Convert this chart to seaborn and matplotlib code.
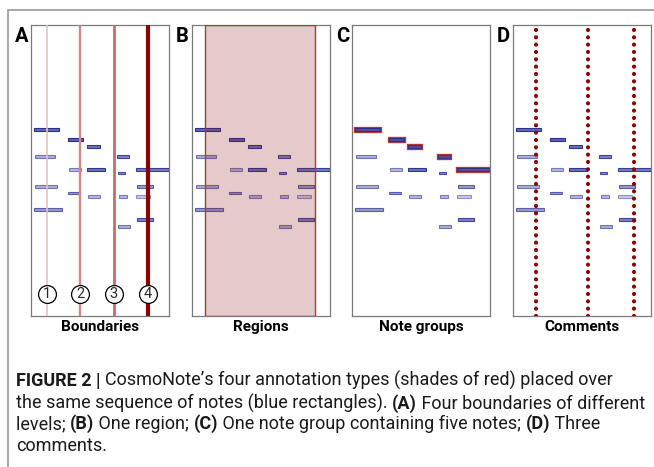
import matplotlib
matplotlib.use('Agg')
import matplotlib.pyplot as plt
import seaborn as sns
from matplotlib.lines import Line2D
from matplotlib.colors import to_rgba

# 음표 데이터 (시간 0~100, 음높이 MIDI)
onsets = [2.2, 26.6, 40.8, 3.1, 62.5, 27.3, 40.8, 62.8, 76.1, 3.1, 77.0, 27.0, 41.5, 63.6, 76.3, 2.2, 77.0, 63.0]
durations = [18.1, 10.9, 9.2, 14.5, 8.5, 8.7, 12.6, 5.3, 24.0, 15.9, 11.2, 8.7, 8.7, 6.2, 10.1, 20.0, 11.2, 9.0]
pitches = [72, 69, 67, 64, 64, 60, 60, 59, 60, 55, 55, 53, 52, 52, 52, 48, 45, 43]
velocities = [108, 114, 102, 57, 89, 51, 102, 83, 95, 57, 70, 70, 51, 51, 38, 70, 89, 57]

# 주석 데이터
boundary_times = [11.4, 35.5, 59.9, 84.6]
boundary_labels = ['1', '2', '3', '4']
region_start, region_end = 9.7, 88.9
group_notes = [0, 1, 2, 4, 8]
comment_times = [16.4, 54.6, 87.9]

panel_letters = ['A', 'B', 'C', 'D']
panel_titles = ['Boundaries', 'Regions', 'Note groups', 'Comments']

sns.set_theme(style='white')
plt.rcParams['font.family'] = ['Roboto', 'DejaVu Sans']

W, H = 654, 467
fig = plt.figure(figsize=(W / 100, H / 100), dpi=100)

# 바깥 테두리 (위, 왼쪽)
fig.add_artist(Line2D([8 / W, 1], [1 - 10 / H, 1 - 10 / H], color='#9a9a9a', lw=1.2))
fig.add_artist(Line2D([8 / W, 8 / W], [0, 1 - 10 / H], color='#9a9a9a', lw=1.2))

lefts = [31, 192, 352, 513]
top, bottom, width = 25, 316, 138

note_fill = (0.29, 0.31, 0.66)
note_edge = (0.17, 0.19, 0.55)


def draw_notes(ax):
    fc = [(*note_fill, v / 127) for v in velocities]
    ec = [(*note_edge, min(1, v / 127 + 0.15)) for v in velocities]
    ax.barh(y=pitches, width=durations, left=onsets, height=0.85,
            color=fc, edgecolor=ec, linewidth=0.8, zorder=3)


axes = []
for i, left in enumerate(lefts):
    ax = fig.add_axes([left / W, (H - bottom) / H, width / W, (bottom - top) / H])
    ax.set_xlim(0, 100)
    ax.set_ylim(16.1, 103.4)
    ax.set_xticks([])
    ax.set_yticks([])
    for s in ax.spines.values():
        s.set_color('#7a7a7a')
        s.set_linewidth(0.9)
    ax.set_xlabel(panel_titles[i], fontsize=11, fontweight='bold', labelpad=3, color='black')
    fig.text((left - 9.5) / W, 1 - 36 / H, panel_letters[i], fontsize=14.5,
             fontweight='bold', ha='center', va='center', color='black')
    axes.append(ax)

# A: 경계선
axA = axes[0]
draw_notes(axA)
b_colors = ['#e8c0c0', '#d08888', '#c96a6a', '#8b0000']
b_widths = [1.2, 1.7, 2.0, 3.0]
for t, c, w in zip(boundary_times, b_colors, b_widths):
    axA.axvline(t, color=c, lw=w, zorder=4)
circ_y = 22.8
axA.scatter(boundary_times, [circ_y] * 4, s=165, facecolor='white',
            edgecolor='black', linewidth=0.9, zorder=5)
for t, lab in zip(boundary_times, boundary_labels):
    axA.text(t, circ_y, lab, fontsize=10.5, ha='center', va='center', zorder=6)

# B: 영역
axB = axes[1]
draw_notes(axB)
axB.axvspan(region_start, region_end, facecolor=to_rgba('#8c1010', 0.22),
            edgecolor='#a83a3a', lw=1.0, zorder=4)

# C: 음표 그룹
axC = axes[2]
gx = [onsets[k] for k in group_notes]
gw = [durations[k] for k in group_notes]
gy = [pitches[k] for k in group_notes]
axC.barh(y=gy, width=gw, left=gx, height=0.85, color='none',
         edgecolor=to_rgba('#a00808', 0.8), linewidth=2.4, zorder=2)
draw_notes(axC)

# D: 코멘트
axD = axes[3]
draw_notes(axD)
for t in comment_times:
    axD.axvline(t, color='#8b0000', lw=3.0, linestyle=(0, (0.01, 1.75)),
                dash_capstyle='round', zorder=4)

# 캡션 (굵은 글씨 섞어서 이어 붙이기)
caption = [
    [('FIGURE 2 | ', True), ('CosmoNote\u2019s four annotation types (shades of red) placed over', False)],
    [('the same sequence of notes (blue rectangles). ', False), ('(A)', True),
     (' Four boundaries of different', False)],
    [('levels; ', False), ('(B)', True), (' One region; ', False), ('(C)', True),
     (' One note group containing five notes; ', False), ('(D)', True), (' Three', False)],
    [('comments.', False)],
]
line_y = [381, 403, 424, 446]
cap_size = 12.95
for segs, y in zip(caption, line_y):
    prev = None
    for txt, bold in segs:
        wgt = 'bold' if bold else 'normal'
        if prev is None:
            prev = fig.text(16 / W, 1 - y / H, txt, fontsize=cap_size, fontweight=wgt,
                            ha='left', va='center', color='#1a1a1a')
        else:
            prev = axA.annotate(txt, xy=(1, 0), xycoords=prev, fontsize=cap_size,
                                fontweight=wgt, ha='left', va='bottom', color='#1a1a1a',
                                annotation_clip=False)

fig.savefig('out.png', dpi=100)
